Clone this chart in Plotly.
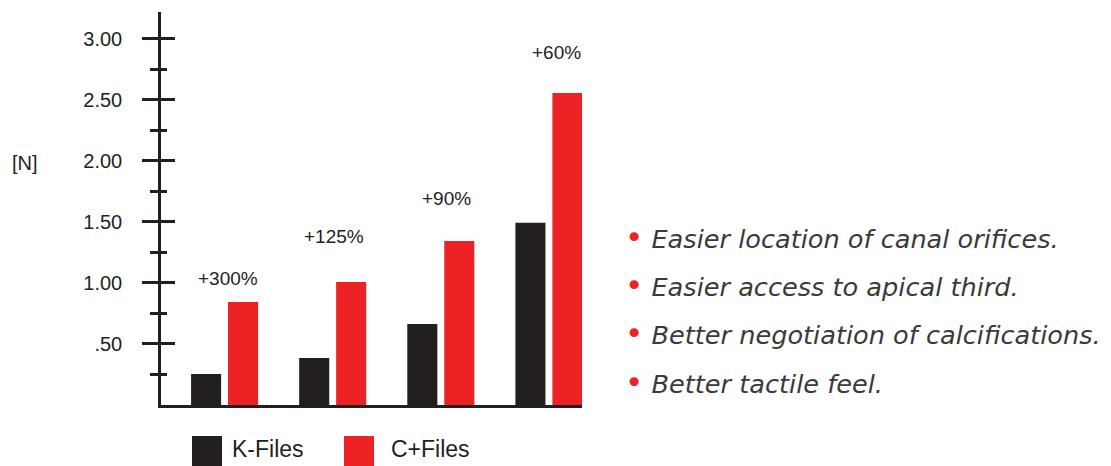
import plotly.graph_objects as go

# ---- data ----
categories = ["Group 1", "Group 2", "Group 3", "Group 4"]
k_files = [0.254, 0.385, 0.664, 1.494]
c_files = [0.844, 1.008, 1.344, 2.557]
increase_labels = ["+300%", "+125%", "+90%", "+60%"]
y_tick_vals = [0.5, 1.0, 1.5, 2.0, 2.5, 3.0]
y_tick_text = [".50", "1.00", "1.50", "2.00", "2.50", "3.00"]
y_minor_vals = [0.25, 0.75, 1.25, 1.75, 2.25, 2.75]
bullets = [
    "Easier location of canal orifices.",
    "Easier access to apical third.",
    "Better negotiation of calcifications.",
    "Better tactile feel.",
]
series_names = ["K-Files", "C+Files"]

# ---- style ----
BLACK = "#231f20"
RED = "#ed2224"
W, H = 1111, 466
L, R, T, B = 161, 529, 12, 61
PW, PH = W - L - R, H - T - B
NARROW = "Liberation Sans Narrow, Arial Narrow, Liberation Sans, Arial, sans-serif"


def px_x(p):
    return (p - L) / PW


def px_y(p):
    return (H - B - p) / PH


fig = go.Figure()
fig.add_trace(go.Bar(x=categories, y=k_files, name=series_names[0],
                     marker=dict(color=BLACK, line=dict(width=0)),
                     width=0.278, offset=-0.310, showlegend=False))
fig.add_trace(go.Bar(x=categories, y=c_files, name=series_names[1],
                     marker=dict(color=RED, line=dict(width=0)),
                     width=0.278, offset=0.032, showlegend=False))
# invisible helper trace so the inside-tick overlay axis is drawn
fig.add_trace(go.Scatter(x=categories, y=k_files, yaxis="y2", mode="markers",
                         marker=dict(opacity=0), showlegend=False, hoverinfo="skip"))

yrange = [0, 3.22]
fig.update_layout(
    width=W, height=H,
    margin=dict(l=L, r=R, t=T, b=B, pad=0),
    paper_bgcolor="white", plot_bgcolor="white",
    barmode="overlay",
    showlegend=False,
    xaxis=dict(type="category", range=[-0.588, 3.306], showline=True,
               linecolor=BLACK, linewidth=2.5, ticks="", showticklabels=False,
               showgrid=False, zeroline=False, fixedrange=True),
    yaxis=dict(range=yrange, showline=True, linecolor=BLACK, linewidth=2.5,
               tickmode="array", tickvals=y_tick_vals, ticktext=y_tick_text,
               ticks="outside", ticklen=16, tickwidth=2.5, tickcolor=BLACK,
               ticklabelstandoff=16,
               minor=dict(tickmode="array", tickvals=y_minor_vals, ticks="outside",
                          ticklen=8, tickwidth=2.5, tickcolor=BLACK, showgrid=False),
               tickfont=dict(family=NARROW, size=20, color=BLACK),
               showgrid=False, zeroline=False),
    yaxis2=dict(range=yrange, overlaying="y", side="left", showline=False,
                tickmode="array", tickvals=y_tick_vals, showticklabels=False,
                ticks="inside", ticklen=14, tickwidth=2.5, tickcolor=BLACK,
                minor=dict(tickmode="array", tickvals=y_minor_vals, ticks="inside",
                           ticklen=6, tickwidth=2.5, tickcolor=BLACK, showgrid=False),
                showgrid=False, zeroline=False),
)

annotations = []
# unit label
annotations.append(dict(text="[N]", xref="paper", yref="paper",
                        x=px_x(25), y=px_y(163), xanchor="center", yanchor="middle",
                        showarrow=False, font=dict(family=NARROW, size=20, color=BLACK)))
# increase labels above groups
x_shifts = [3, 1, 6, 8]
y_shifts = [23, 45, 42, 40]
for i, lab in enumerate(increase_labels):
    annotations.append(dict(text=lab, x=categories[i], y=c_files[i], xref="x", yref="y",
                            xanchor="center", yanchor="middle", xshift=x_shifts[i],
                            yshift=y_shifts[i], showarrow=False,
                            font=dict(family=NARROW, size=19, color=BLACK)))
# bullet list
line_y = [237, 285, 333, 382]
for i, txt in enumerate(bullets):
    annotations.append(dict(
        text=f"<span style='color:{RED};font-size:31px'>•</span> <i>{txt}</i>",
        xref="paper", yref="paper", x=px_x(623), y=px_y(line_y[i]),
        xanchor="left", yanchor="middle", showarrow=False,
        font=dict(family="DejaVu Sans", size=25.6, color="#3a3a3a")))
# custom legend
legend_items = [(series_names[0], BLACK, 192, 230), (series_names[1], RED, 344, 389)]
shapes = []
for name, col, sx, tx in legend_items:
    shapes.append(dict(type="rect", xref="paper", yref="paper",
                       x0=px_x(sx), x1=px_x(sx + 30), y0=px_y(466), y1=px_y(436),
                       fillcolor=col, line=dict(width=0)))
    annotations.append(dict(text=name, xref="paper", yref="paper",
                            x=px_x(tx), y=px_y(449), xanchor="left", yanchor="middle",
                            showarrow=False,
                            font=dict(family=NARROW, size=23, color=BLACK)))

fig.update_layout(annotations=annotations, shapes=shapes)
fig.write_html("out.html", config={"displayModeBar": False},
               post_script="document.body.style.margin='0';document.body.style.padding='0';")
